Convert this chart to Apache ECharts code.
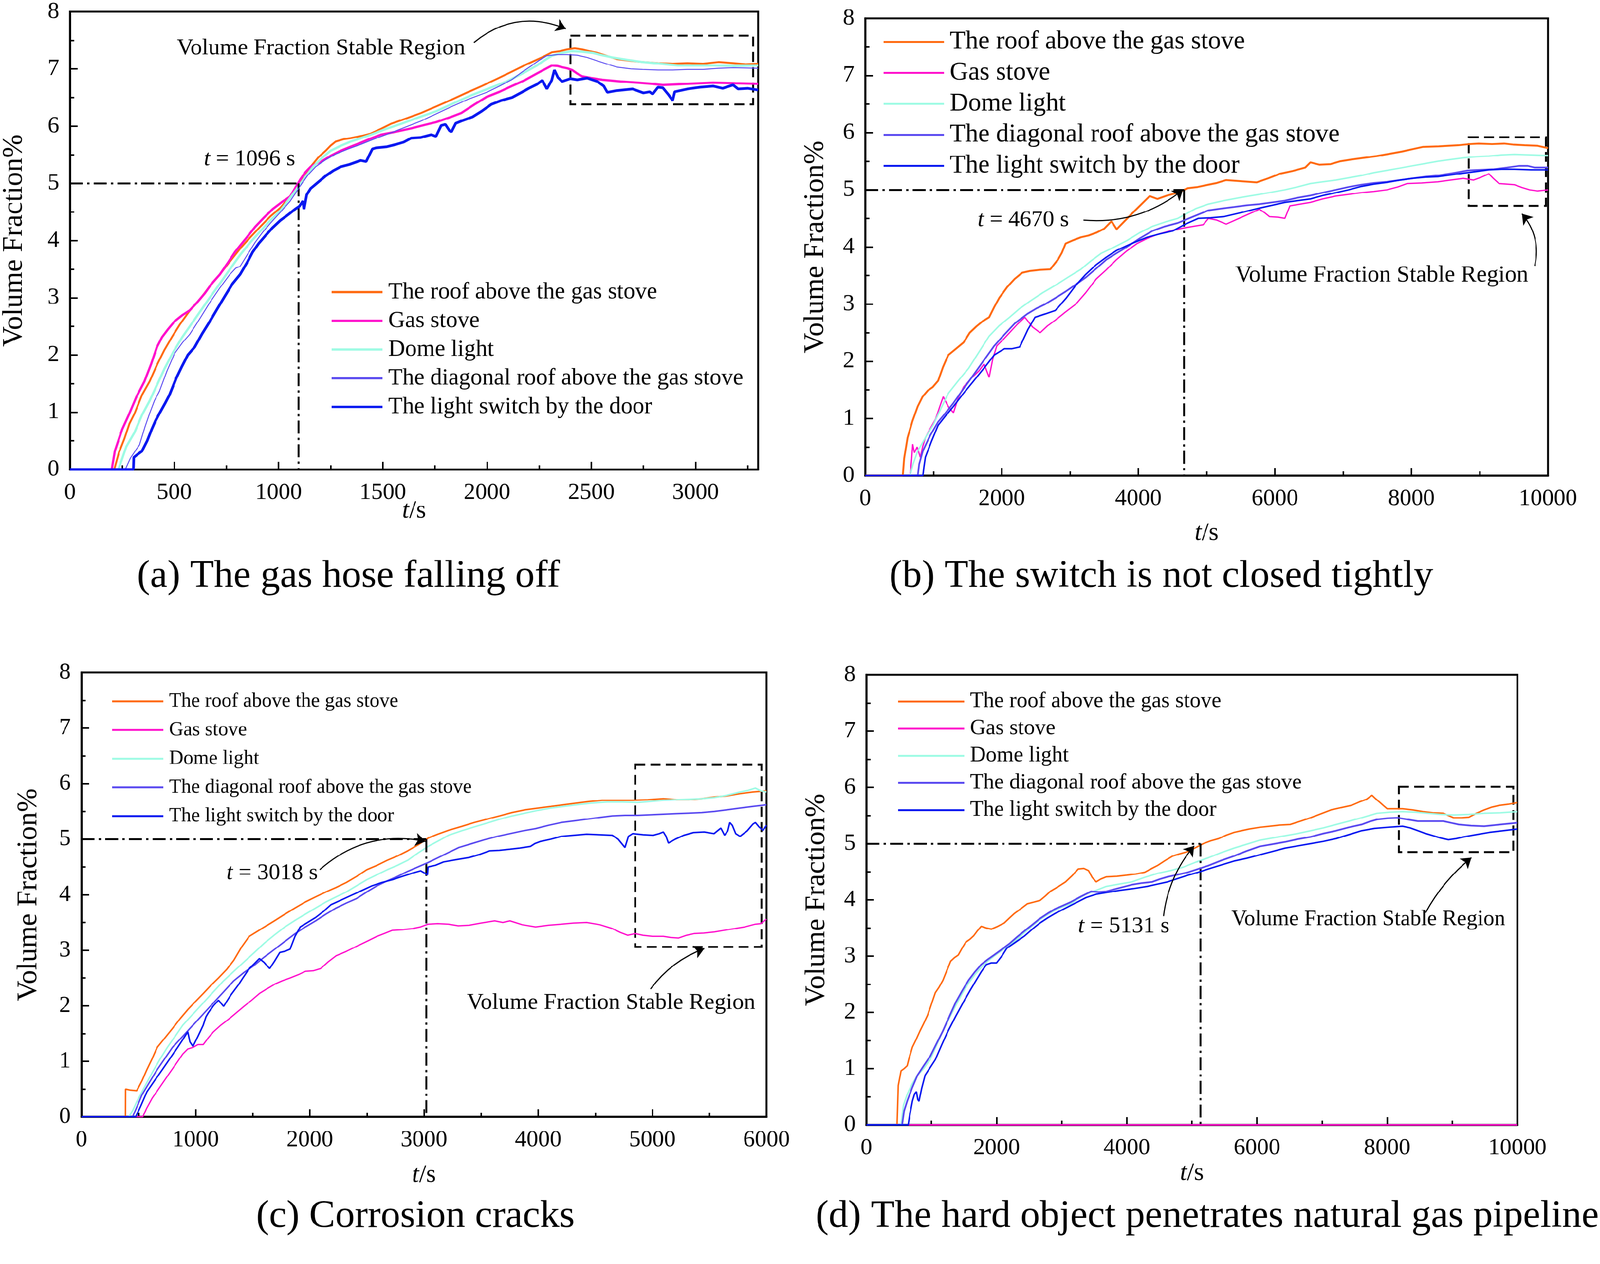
<!DOCTYPE html>
<html>
<head>
<meta charset="utf-8">
<script src="https://cdn.jsdelivr.net/npm/echarts@6/dist/echarts.min.js"></script>
<style>
  html, body { margin: 0; padding: 0; background: #fff; overflow: hidden; }
  #chart { width: 4183px; height: 3235px; transform-origin: 0 0; }
</style>
</head>
<body>
<div id="chart"></div>
<script>
const FONT = "'Liberation Serif', 'Times New Roman', serif";
const NAMES = ['The roof above the gas stove', 'Gas stove', 'Dome light', 'The diagonal roof above the gas stove', 'The light switch by the door'];
const COLORS = ['#FF6A10', '#FF10CC', '#9EFBE4', '#5A4AF0', '#0818F0'];
const CAPTIONS = ['(a) The gas hose falling off', '(b) The switch is not closed tightly', '(c) Corrosion cracks', '(d) The hard object penetrates natural gas pipeline'];
const T_CROSS = [1096, 4670, 3018, 5131];
const Y_TICKS = [0, 1, 2, 3, 4, 5, 6, 7, 8];

// (a) gas hose falling off
const aRoof = [[0,0],[212,0],[235,0.3],[261,0.54],[285,0.8],[310,0.98],[345,1.3],[382,1.54],[420,1.85],[453,2.09],[490,2.32],[526,2.53],[575,2.78],[622,2.97],[670,3.2],[719,3.41],[770,3.65],[816,3.86],[865,4.06],[912,4.24],[960,4.42],[1008,4.57],[1050,4.75],[1093,4.96],[1120,5.1],[1154,5.29],[1190,5.45],[1226,5.57],[1250,5.66],[1274,5.73],[1310,5.77],[1346,5.79],[1400,5.83],[1443,5.87],[1490,5.95],[1539,6.04],[1610,6.13],[1684,6.23],[1760,6.35],[1829,6.46],[1900,6.58],[1974,6.7],[2050,6.83],[2118,6.95],[2190,7.08],[2263,7.2],[2311,7.29],[2350,7.31],[2384,7.34],[2420,7.36],[2456,7.34],[2490,7.31],[2529,7.28],[2580,7.22],[2625,7.17],[2690,7.14],[2746,7.12],[2820,7.1],[2891,7.09],[2960,7.1],[3036,7.09],[3110,7.12],[3181,7.1],[3240,7.08],[3300,7.09]];
const aGas = [[0,0],[200,0],[215,0.32],[250,0.7],[285,0.98],[320,1.28],[357,1.54],[390,1.85],[417,2.14],[441,2.31],[470,2.45],[502,2.59],[540,2.7],[574,2.78],[610,2.92],[647,3.08],[680,3.25],[719,3.41],[755,3.6],[791,3.8],[840,4.02],[888,4.24],[930,4.4],[972,4.55],[1015,4.67],[1056,4.77],[1080,4.92],[1105,5.07],[1130,5.2],[1154,5.29],[1185,5.35],[1214,5.4],[1255,5.49],[1298,5.57],[1345,5.64],[1394,5.71],[1440,5.78],[1491,5.85],[1560,5.9],[1636,5.96],[1700,6.02],[1756,6.07],[1820,6.15],[1877,6.23],[1940,6.38],[1998,6.51],[2060,6.6],[2118,6.7],[2180,6.8],[2239,6.92],[2280,7.0],[2311,7.06],[2340,7.05],[2360,7.03],[2385,7.01],[2408,6.98],[2432,6.92],[2456,6.87],[2500,6.84],[2553,6.81],[2640,6.78],[2722,6.76],[2790,6.74],[2843,6.72],[2960,6.74],[3084,6.76],[3190,6.75],[3300,6.74]];
const aDome = [[0,0],[232,0],[270,0.4],[310,0.65],[345,0.95],[382,1.2],[420,1.5],[453,1.76],[495,2.05],[538,2.31],[580,2.53],[622,2.75],[670,3.0],[719,3.25],[767,3.5],[816,3.75],[865,3.97],[912,4.16],[960,4.35],[1008,4.52],[1050,4.72],[1093,4.93],[1130,5.12],[1166,5.29],[1210,5.45],[1250,5.57],[1300,5.66],[1346,5.73],[1395,5.79],[1443,5.85],[1515,5.95],[1588,6.04],[1670,6.15],[1756,6.26],[1840,6.4],[1925,6.54],[2010,6.66],[2094,6.78],[2170,6.92],[2239,7.06],[2280,7.16],[2311,7.23],[2360,7.28],[2408,7.31],[2456,7.3],[2505,7.28],[2550,7.24],[2601,7.2],[2670,7.16],[2746,7.12],[2830,7.09],[2915,7.06],[3000,7.06],[3084,7.06],[3190,7.05],[3300,7.06]];
const aDiag = [[0,0],[265,0],[290,0.2],[333,0.43],[360,0.75],[382,0.98],[405,1.2],[429,1.37],[465,1.72],[502,2.03],[540,2.22],[574,2.36],[620,2.62],[671,2.92],[720,3.18],[767,3.41],[795,3.52],[816,3.55],[850,3.75],[888,3.97],[925,4.15],[960,4.3],[1010,4.5],[1056,4.69],[1080,4.82],[1105,4.96],[1140,5.14],[1178,5.29],[1225,5.41],[1274,5.51],[1334,5.6],[1394,5.68],[1455,5.77],[1515,5.85],[1600,5.97],[1684,6.09],[1760,6.22],[1829,6.34],[1910,6.47],[1998,6.59],[2060,6.7],[2118,6.81],[2170,6.95],[2215,7.06],[2250,7.15],[2287,7.23],[2335,7.25],[2385,7.25],[2432,7.24],[2480,7.2],[2529,7.14],[2580,7.08],[2625,7.03],[2690,7.0],[2746,6.99],[2820,6.98],[2891,6.98],[2960,6.99],[3036,6.99],[3110,7.01],[3181,7.02],[3300,7.01]];
const aSwitch = [[0,0],[304,0],[306,0.21],[330,0.28],[345,0.32],[370,0.5],[393,0.71],[410,0.85],[429,0.98],[455,1.15],[478,1.31],[510,1.6],[538,1.81],[565,2.0],[598,2.14],[635,2.38],[671,2.59],[705,2.8],[743,3.03],[780,3.25],[816,3.41],[850,3.62],[876,3.8],[905,3.95],[936,4.08],[970,4.22],[1008,4.35],[1045,4.45],[1080,4.55],[1100,4.6],[1117,4.69],[1122,4.55],[1135,4.8],[1154,4.91],[1190,5.02],[1226,5.13],[1262,5.22],[1298,5.29],[1340,5.33],[1394,5.4],[1420,5.38],[1450,5.6],[1467,5.62],[1520,5.64],[1563,5.68],[1600,5.72],[1636,5.79],[1680,5.8],[1732,5.85],[1755,5.82],[1780,6.01],[1800,6.03],[1820,5.92],[1829,5.9],[1850,6.05],[1877,6.09],[1930,6.16],[1974,6.26],[2020,6.38],[2070,6.45],[2120,6.5],[2166,6.59],[2200,6.66],[2239,6.73],[2265,6.8],[2287,6.65],[2310,6.8],[2323,6.98],[2340,6.85],[2360,6.78],[2400,6.83],[2432,6.81],[2480,6.84],[2529,6.78],[2560,6.7],[2577,6.59],[2620,6.62],[2698,6.65],[2750,6.58],[2780,6.6],[2794,6.56],[2820,6.68],[2843,6.67],[2870,6.55],[2890,6.45],[2900,6.6],[2963,6.65],[3020,6.68],[3084,6.7],[3130,6.66],[3180,6.72],[3204,6.65],[3250,6.66],[3300,6.63]];

// (b) switch not closed tightly
const bRoof = [[0,0],[550,0],[570,0.3],[620,0.66],[690,0.95],[769,1.21],[840,1.38],[919,1.49],[990,1.55],[1068,1.66],[1140,1.9],[1217,2.11],[1330,2.22],[1441,2.33],[1530,2.5],[1628,2.61],[1720,2.7],[1815,2.77],[1890,2.95],[1964,3.11],[2080,3.3],[2188,3.44],[2300,3.55],[2412,3.58],[2560,3.6],[2711,3.61],[2823,3.78],[2880,3.9],[2935,4.06],[3050,4.12],[3159,4.17],[3270,4.2],[3383,4.25],[3500,4.32],[3607,4.45],[3682,4.31],[3920,4.6],[4167,4.89],[4279,4.84],[4420,4.9],[4578,4.95],[4727,5.03],[4870,5.05],[5026,5.09],[5150,5.12],[5287,5.17],[5735,5.13],[5900,5.2],[6071,5.28],[6260,5.33],[6445,5.39],[6520,5.48],[6650,5.44],[6818,5.45],[6960,5.5],[7117,5.53],[7300,5.56],[7491,5.59],[7680,5.63],[7864,5.67],[8010,5.71],[8163,5.75],[8400,5.76],[8686,5.78],[8850,5.8],[8984,5.81],[9180,5.8],[9358,5.81],[9500,5.79],[9657,5.78],[9850,5.77],[10000,5.73]];
const bGas = [[0,0],[657,0],[680,0.3],[695,0.55],[720,0.4],[760,0.5],[807,0.32],[840,0.5],[881,0.66],[950,0.82],[1031,0.99],[1090,1.2],[1143,1.38],[1220,1.2],[1292,1.1],[1360,1.35],[1441,1.55],[1550,1.7],[1665,1.83],[1740,1.95],[1815,1.72],[1870,2.05],[1927,2.27],[2020,2.38],[2114,2.5],[2230,2.65],[2338,2.77],[2450,2.6],[2562,2.5],[2670,2.62],[2786,2.72],[2930,2.86],[3085,3.0],[3230,3.2],[3383,3.44],[3530,3.6],[3682,3.78],[3830,3.93],[3981,4.06],[4130,4.15],[4279,4.22],[4460,4.28],[4653,4.33],[4800,4.36],[4951,4.39],[5026,4.5],[5150,4.47],[5287,4.4],[5530,4.53],[5773,4.66],[5850,4.6],[5922,4.53],[6050,4.52],[6146,4.5],[6221,4.72],[6370,4.75],[6520,4.78],[6700,4.84],[6893,4.89],[7080,4.92],[7267,4.95],[7450,4.97],[7640,5.0],[7800,5.05],[7939,5.11],[8150,5.12],[8387,5.14],[8570,5.17],[8760,5.2],[8910,5.17],[9020,5.22],[9134,5.28],[9200,5.2],[9283,5.11],[9400,5.1],[9507,5.09],[9620,5.04],[9731,5.0],[9850,4.98],[10000,5.0]];
const bDome = [[0,0],[657,0],[700,0.2],[769,0.43],[880,0.66],[993,0.88],[1100,1.15],[1217,1.44],[1370,1.67],[1516,1.88],[1660,2.15],[1815,2.44],[1960,2.62],[2114,2.77],[2260,2.92],[2412,3.05],[2600,3.2],[2786,3.33],[2970,3.47],[3159,3.61],[3300,3.75],[3458,3.89],[3650,4.0],[3831,4.11],[4020,4.25],[4205,4.36],[4400,4.44],[4578,4.5],[4700,4.58],[4839,4.67],[5026,4.75],[5250,4.81],[5474,4.86],[5620,4.89],[5773,4.92],[5960,4.96],[6146,5.0],[6330,5.05],[6520,5.11],[6700,5.14],[6893,5.17],[7080,5.21],[7267,5.25],[7450,5.3],[7640,5.34],[7830,5.38],[8014,5.42],[8200,5.46],[8387,5.5],[8570,5.53],[8760,5.56],[8950,5.58],[9134,5.59],[9320,5.61],[9507,5.62],[9750,5.61],[10000,5.6]];
const bDiag = [[0,0],[770,0],[790,0.2],[844,0.43],[950,0.7],[1068,0.94],[1180,1.1],[1292,1.27],[1440,1.52],[1591,1.77],[1740,2.02],[1890,2.27],[2040,2.47],[2188,2.66],[2375,2.83],[2500,2.92],[2636,3.0],[2790,3.11],[2935,3.22],[3080,3.34],[3234,3.47],[3380,3.62],[3533,3.78],[3680,3.89],[3831,4.0],[4020,4.15],[4205,4.28],[4390,4.36],[4578,4.42],[4800,4.53],[5026,4.64],[5200,4.67],[5399,4.7],[5590,4.73],[5773,4.75],[5960,4.78],[6146,4.81],[6330,4.86],[6520,4.9],[6700,4.95],[6893,5.0],[7080,5.05],[7267,5.09],[7450,5.12],[7640,5.14],[7830,5.17],[8014,5.2],[8200,5.23],[8387,5.25],[8600,5.29],[8835,5.34],[9020,5.35],[9208,5.36],[9400,5.39],[9582,5.42],[9700,5.42],[9806,5.39],[10000,5.39]];
const bSwitch = [[0,0],[845,0],[860,0.15],[881,0.32],[970,0.6],[1068,0.88],[1180,1.05],[1292,1.21],[1440,1.44],[1591,1.66],[1740,1.88],[1890,2.11],[2039,2.22],[2150,2.22],[2263,2.25],[2380,2.55],[2487,2.77],[2640,2.83],[2786,2.89],[2940,3.1],[3085,3.33],[3230,3.52],[3383,3.69],[3530,3.82],[3682,3.94],[3900,4.06],[4130,4.17],[4320,4.23],[4503,4.28],[4690,4.4],[4877,4.5],[5060,4.51],[5250,4.53],[5500,4.6],[5773,4.68],[5960,4.73],[6146,4.78],[6330,4.81],[6520,4.84],[6700,4.9],[6893,4.95],[7080,5.0],[7267,5.06],[7450,5.1],[7640,5.13],[7830,5.17],[8014,5.2],[8200,5.22],[8387,5.23],[8570,5.26],[8760,5.29],[8950,5.32],[9134,5.35],[9320,5.36],[9507,5.36],[9750,5.35],[10000,5.35]];

// (c) corrosion cracks
const cRoof = [[0,0],[385,0],[386,0.5],[430,0.48],[484,0.47],[530,0.65],[573,0.85],[620,1.05],[663,1.25],[730,1.42],[797,1.59],[865,1.77],[931,1.93],[1000,2.08],[1066,2.22],[1130,2.36],[1200,2.5],[1270,2.65],[1334,2.82],[1400,3.05],[1469,3.25],[1540,3.34],[1603,3.42],[1690,3.53],[1782,3.65],[1870,3.76],[1961,3.87],[2050,3.96],[2141,4.05],[2230,4.13],[2320,4.22],[2410,4.33],[2499,4.45],[2590,4.53],[2678,4.62],[2770,4.7],[2857,4.79],[2950,4.9],[3036,5.02],[3120,5.09],[3215,5.16],[3330,5.23],[3439,5.3],[3550,5.36],[3663,5.42],[3770,5.48],[3887,5.53],[4000,5.56],[4111,5.59],[4220,5.62],[4335,5.65],[4450,5.68],[4559,5.7],[4700,5.7],[4828,5.7],[4960,5.71],[5096,5.73],[5210,5.71],[5320,5.71],[5430,5.73],[5544,5.76],[5650,5.78],[5768,5.82],[5880,5.85],[6000,5.87]];
const cGas = [[0,0],[537,0],[570,0.15],[618,0.33],[685,0.53],[752,0.73],[820,0.93],[887,1.13],[930,1.22],[976,1.25],[1020,1.3],[1066,1.3],[1110,1.42],[1155,1.53],[1220,1.65],[1290,1.76],[1360,1.88],[1424,1.99],[1490,2.1],[1558,2.22],[1620,2.3],[1693,2.39],[1760,2.45],[1827,2.5],[1900,2.56],[1961,2.62],[2030,2.63],[2095,2.67],[2160,2.79],[2230,2.9],[2320,2.98],[2409,3.07],[2500,3.16],[2588,3.25],[2650,3.3],[2723,3.36],[2810,3.37],[2902,3.39],[2970,3.42],[3036,3.47],[3120,3.48],[3215,3.47],[3300,3.44],[3395,3.45],[3500,3.49],[3619,3.53],[3690,3.5],[3753,3.53],[3860,3.46],[3977,3.42],[4090,3.45],[4201,3.47],[4310,3.49],[4425,3.5],[4540,3.46],[4649,3.39],[4720,3.32],[4783,3.27],[4850,3.3],[4918,3.27],[5000,3.25],[5096,3.25],[5160,3.23],[5230,3.22],[5300,3.27],[5365,3.3],[5450,3.31],[5544,3.33],[5630,3.36],[5723,3.39],[5810,3.42],[5902,3.47],[5950,3.48],[6000,3.56]];
const cDome = [[0,0],[416,0],[450,0.12],[484,0.27],[550,0.53],[618,0.79],[685,1.03],[752,1.25],[820,1.45],[887,1.65],[976,1.85],[1066,2.05],[1155,2.25],[1245,2.45],[1334,2.62],[1424,2.79],[1514,2.96],[1603,3.13],[1693,3.28],[1782,3.42],[1872,3.54],[1961,3.65],[2051,3.76],[2141,3.87],[2230,3.96],[2320,4.05],[2409,4.16],[2499,4.27],[2588,4.36],[2678,4.45],[2768,4.53],[2857,4.62],[2947,4.75],[3036,4.87],[3126,4.97],[3215,5.07],[3327,5.15],[3439,5.22],[3551,5.29],[3663,5.36],[3775,5.42],[3887,5.47],[4000,5.52],[4111,5.56],[4223,5.59],[4335,5.62],[4470,5.65],[4604,5.67],[4740,5.67],[4873,5.66],[4985,5.68],[5096,5.7],[5210,5.71],[5320,5.72],[5430,5.73],[5544,5.75],[5650,5.79],[5768,5.85],[5840,5.88],[5902,5.92],[5950,5.87],[6000,5.85]];
const cDiag = [[0,0],[448,0],[490,0.2],[528,0.39],[595,0.62],[663,0.85],[730,1.05],[797,1.25],[887,1.45],[976,1.65],[1066,1.85],[1155,2.05],[1245,2.25],[1334,2.45],[1424,2.6],[1514,2.73],[1603,2.88],[1693,3.02],[1782,3.16],[1872,3.3],[1961,3.42],[2051,3.53],[2141,3.65],[2230,3.76],[2320,3.85],[2409,3.93],[2499,4.05],[2588,4.16],[2678,4.25],[2768,4.33],[2857,4.42],[2947,4.5],[3036,4.58],[3126,4.67],[3215,4.76],[3305,4.85],[3417,4.92],[3529,4.99],[3641,5.05],[3753,5.1],[3865,5.15],[3977,5.19],[4090,5.25],[4201,5.3],[4313,5.33],[4425,5.36],[4537,5.39],[4649,5.42],[4761,5.43],[4873,5.43],[4985,5.44],[5096,5.45],[5208,5.46],[5320,5.47],[5432,5.48],[5544,5.5],[5656,5.53],[5768,5.56],[5880,5.59],[6000,5.62]];
const cSwitch = [[0,0],[475,0],[520,0.2],[573,0.45],[640,0.65],[708,0.85],[775,1.05],[842,1.25],[890,1.4],[931,1.53],[950,1.35],[976,1.27],[1020,1.45],[1066,1.65],[1090,1.8],[1110,1.87],[1155,2.0],[1200,2.1],[1245,1.99],[1310,2.2],[1379,2.39],[1420,2.52],[1469,2.67],[1510,2.75],[1558,2.85],[1600,2.78],[1648,2.67],[1690,2.8],[1737,2.96],[1780,2.98],[1827,3.02],[1870,3.25],[1916,3.42],[1980,3.5],[2051,3.59],[2120,3.7],[2185,3.82],[2270,3.9],[2364,3.99],[2450,4.07],[2544,4.16],[2630,4.22],[2723,4.27],[2810,4.33],[2902,4.39],[2970,4.43],[3030,4.36],[3036,4.5],[3100,4.53],[3171,4.59],[3280,4.63],[3395,4.67],[3480,4.72],[3574,4.79],[3660,4.8],[3753,4.82],[3840,4.84],[3932,4.87],[3970,4.92],[4021,4.96],[4110,5.0],[4201,5.05],[4310,5.07],[4425,5.09],[4540,5.08],[4649,5.07],[4700,5.0],[4740,4.9],[4760,4.85],[4790,5.05],[4828,5.1],[4920,5.08],[5007,5.07],[5060,5.1],[5096,5.13],[5120,5.05],[5141,4.93],[5200,5.0],[5275,5.07],[5360,5.12],[5454,5.13],[5540,5.1],[5600,5.2],[5633,5.07],[5660,5.15],[5678,5.3],[5700,5.25],[5730,5.1],[5768,5.05],[5830,5.15],[5880,5.27],[5902,5.3],[5935,5.22],[5969,5.16],[6000,5.25]];

// (d) hard object penetrates pipeline
const dRoof = [[0,0],[471,0],[490,0.7],[533,0.96],[580,1.0],[627,1.05],[660,1.2],[706,1.38],[765,1.52],[824,1.67],[880,1.8],[941,1.95],[1000,2.15],[1059,2.35],[1118,2.45],[1176,2.57],[1235,2.74],[1294,2.91],[1350,2.97],[1412,3.02],[1470,3.14],[1529,3.25],[1590,3.3],[1647,3.36],[1705,3.45],[1765,3.53],[1840,3.5],[1922,3.48],[2020,3.53],[2118,3.59],[2200,3.68],[2275,3.76],[2370,3.84],[2471,3.93],[2570,3.96],[2667,3.99],[2750,4.07],[2824,4.15],[2940,4.23],[3059,4.32],[3160,4.43],[3255,4.55],[3340,4.56],[3412,4.52],[3470,4.4],[3529,4.32],[3600,4.37],[3686,4.41],[3850,4.42],[4000,4.44],[4140,4.46],[4275,4.49],[4370,4.55],[4471,4.61],[4590,4.7],[4706,4.78],[4820,4.82],[4941,4.86],[5060,4.93],[5176,5.0],[5290,5.05],[5412,5.09],[5530,5.15],[5647,5.2],[5760,5.23],[5882,5.26],[6040,5.29],[6196,5.31],[6350,5.33],[6510,5.34],[6670,5.4],[6824,5.46],[6980,5.53],[7137,5.6],[7290,5.64],[7451,5.68],[7570,5.74],[7686,5.79],[7765,5.86],[7820,5.8],[7882,5.74],[7940,5.68],[8000,5.62],[8120,5.62],[8235,5.62],[8390,5.6],[8549,5.57],[8700,5.55],[8863,5.54],[8940,5.5],[9020,5.46],[9140,5.46],[9255,5.47],[9370,5.54],[9490,5.6],[9610,5.65],[9725,5.68],[9860,5.7],[10000,5.73]];
const dGas = [[0,0],[10000,0]];
const dDome = [[0,0],[533,0],[570,0.35],[627,0.54],[700,0.72],[784,0.88],[880,1.0],[980,1.16],[1080,1.42],[1176,1.67],[1275,1.9],[1373,2.12],[1470,2.33],[1569,2.52],[1667,2.67],[1765,2.8],[1863,2.91],[1961,3.0],[2080,3.1],[2196,3.19],[2314,3.3],[2431,3.42],[2550,3.54],[2667,3.65],[2785,3.74],[2902,3.82],[3020,3.88],[3137,3.93],[3255,4.02],[3373,4.1],[3530,4.17],[3686,4.24],[3880,4.28],[4078,4.32],[4275,4.4],[4471,4.47],[4667,4.52],[4863,4.58],[5060,4.67],[5255,4.75],[5450,4.84],[5647,4.92],[5843,4.99],[6039,5.06],[6235,5.1],[6431,5.14],[6627,5.18],[6824,5.23],[7020,5.28],[7216,5.34],[7412,5.4],[7608,5.46],[7725,5.5],[7843,5.54],[8040,5.56],[8235,5.57],[8430,5.56],[8627,5.54],[8820,5.52],[9020,5.51],[9255,5.52],[9490,5.54],[9740,5.55],[10000,5.57]];
const dDiag = [[0,0],[549,0],[580,0.25],[627,0.42],[700,0.65],[784,0.88],[880,1.05],[980,1.22],[1080,1.45],[1176,1.67],[1275,1.93],[1373,2.18],[1470,2.38],[1569,2.57],[1667,2.72],[1765,2.85],[1863,2.94],[1961,3.02],[2080,3.12],[2196,3.22],[2314,3.34],[2431,3.45],[2550,3.56],[2667,3.67],[2785,3.76],[2902,3.84],[3020,3.9],[3137,3.96],[3294,4.06],[3451,4.15],[3570,4.14],[3686,4.15],[3880,4.21],[4078,4.27],[4235,4.3],[4392,4.32],[4510,4.37],[4627,4.41],[4784,4.45],[4941,4.49],[5098,4.55],[5255,4.61],[5450,4.7],[5647,4.78],[5843,4.87],[6039,4.95],[6235,4.99],[6431,5.03],[6627,5.08],[6824,5.12],[7020,5.18],[7216,5.23],[7412,5.29],[7608,5.34],[7725,5.39],[7843,5.43],[8000,5.45],[8157,5.46],[8314,5.43],[8471,5.4],[8667,5.4],[8863,5.4],[8980,5.37],[9098,5.34],[9290,5.32],[9490,5.31],[9740,5.34],[10000,5.37]];
const dSwitch = [[0,0],[643,0],[670,0.2],[706,0.42],[740,0.55],[769,0.59],[790,0.45],[808,0.42],[850,0.65],[902,0.88],[980,1.02],[1059,1.16],[1157,1.42],[1255,1.67],[1372,1.93],[1490,2.18],[1588,2.38],[1686,2.57],[1765,2.72],[1843,2.85],[1920,2.88],[2000,2.88],[2080,3.0],[2157,3.14],[2294,3.25],[2431,3.36],[2549,3.48],[2667,3.59],[2785,3.68],[2902,3.76],[3020,3.83],[3137,3.9],[3255,3.97],[3373,4.04],[3451,4.07],[3529,4.1],[3686,4.13],[3900,4.17],[4100,4.2],[4314,4.24],[4470,4.28],[4627,4.32],[4784,4.38],[4941,4.44],[5098,4.49],[5255,4.55],[5450,4.62],[5647,4.69],[5843,4.74],[6039,4.8],[6235,4.86],[6431,4.92],[6627,4.96],[6824,5.0],[7020,5.04],[7216,5.09],[7412,5.16],[7608,5.23],[7804,5.27],[8000,5.29],[8118,5.3],[8235,5.31],[8353,5.28],[8471,5.23],[8590,5.18],[8706,5.14],[8824,5.1],[8941,5.07],[9060,5.09],[9176,5.12],[9370,5.16],[9569,5.2],[9780,5.23],[10000,5.26]];

const SERIES_DATA = [
  [aRoof, aGas, aDome, aDiag, aSwitch],
  [bRoof, bGas, bDome, bDiag, bSwitch],
  [cRoof, cGas, cDome, cDiag, cSwitch],
  [dRoof, dGas, dDome, dDiag, dSwitch]
];

// layout of each panel (pixels) and annotation anchors (data coordinates)
const panels = [
  { grid: { left: 165, top: 27, width: 1817, height: 1200 }, xMax: 3300, xStep: 500, widths: [5, 6, 6, 2.5, 7],
    legend: { left: 867, top: 733, itemWidth: 133, itemHeight: 6, fontSize: 61, itemGap: 14 },
    yNameGap: 108, xNameGap: 76, caption: [911, 1507, 'center'],
    box: [2400, 7.58, 3276, 6.38],
    tText: [861, 5.42], tArrow: null,
    regText: [1204, 7.36], regFont: 60, regArrow: [[1937, 7.46], [2378, 7.7], 0.3] },
  { grid: { left: 2262, top: 48, width: 1785, height: 1195 }, xMax: 10000, xStep: 2000, widths: [5, 3.5, 4, 4.5, 4],
    legend: { left: 2310, top: 76, itemWidth: 158, itemHeight: 5, fontSize: 67, itemGap: 14 },
    yNameGap: 92, xNameGap: 118, caption: [3036, 1507, 'center'],
    box: [8840, 5.92, 9970, 4.72],
    tText: [2315, 4.47], tArrow: [[3196, 4.47], [4653, 5.0], -0.2],
    regText: [7565, 3.5], regFont: 61, regArrow: [[9806, 3.67], [9619, 4.58], -0.25] },
  { grid: { left: 213, top: 1758, width: 1791, height: 1161 }, xMax: 6000, xStep: 1000, widths: [4, 3.5, 4, 4, 4],
    legend: { left: 293, top: 1807, itemWidth: 134, itemHeight: 5, fontSize: 52, itemGap: 23 },
    yNameGap: 100, xNameGap: 120, caption: [1086, 3180, 'center'],
    box: [4850, 6.34, 5956, 3.06],
    tText: [1670, 4.39], tArrow: [[2087, 4.45], [3013, 4.96], 0.25],
    regText: [4639, 2.05], regFont: 60, regArrow: [[4984, 2.3], [5455, 3.03], 0.15] },
  { grid: { left: 2265, top: 1764, width: 1702, height: 1176 }, xMax: 10000, xStep: 2000, widths: [4, 4, 4, 4.5, 4],
    legend: { left: 2348, top: 1805, itemWidth: 173, itemHeight: 5, fontSize: 57, itemGap: 14 },
    yNameGap: 92, xNameGap: 94, caption: [4180, 3180, 'right'],
    box: [8180, 6.01, 9937, 4.85],
    tText: [3953, 3.53], tArrow: [[4565, 3.71], [5035, 4.96], 0.15],
    regText: [7710, 3.65], regFont: 57, regArrow: [[8588, 3.77], [9294, 4.75], 0.1] }
];

// fit the 4183x3235 drawing into whatever viewport the page actually gets
const chartEl = document.getElementById('chart');
const fit = Math.min(window.innerWidth / 4183, window.innerHeight / 3235);
if (fit > 0 && fit < 1) chartEl.style.transform = 'scale(' + fit + ')';

const chart = echarts.init(chartEl);

const grids = [], xAxes = [], yAxes = [], series = [], legends = [], graphics = [];
const tickStyle = { color: '#000', width: 4 };
const labelStyle = { fontSize: 61, fontFamily: FONT, color: '#000', formatter: v => String(v) };

panels.forEach((p, i) => {
  grids.push(Object.assign({ show: true, borderColor: '#000', borderWidth: 5, backgroundColor: 'transparent' }, p.grid));

  // panel (a) has a max that is not a tick, so its minor ticks come from a second axis
  const odd = p.xMax % p.xStep !== 0;
  const xIndex = xAxes.length;
  xAxes.push({
    type: 'value', gridIndex: i, min: 0, max: p.xMax, interval: p.xStep,
    name: '{i|t}/s', nameLocation: 'middle', nameGap: p.xNameGap, nameMoveOverlap: false,
    nameTextStyle: { fontSize: 66, fontFamily: FONT, color: '#000', rich: { i: { fontSize: 66, fontFamily: FONT, fontStyle: 'italic', color: '#000' } } },
    axisLine: { show: true, onZero: false, lineStyle: { color: '#000', width: 5 } },
    axisTick: { show: true, inside: true, length: 20, lineStyle: tickStyle },
    minorTick: { show: !odd, splitNumber: 2, length: 11, lineStyle: tickStyle },
    splitLine: { show: false },
    axisLabel: Object.assign({ margin: 30, showMaxLabel: !odd }, labelStyle)
  });
  if (odd) {
    xAxes.push({
      type: 'value', gridIndex: i, min: 0, max: p.xMax, interval: p.xStep / 2, position: 'bottom',
      axisLine: { show: false }, axisLabel: { show: false }, splitLine: { show: false },
      axisTick: { show: true, inside: true, length: 11, lineStyle: tickStyle }
    });
  }
  yAxes.push({
    type: 'value', gridIndex: i, min: Y_TICKS[0], max: Y_TICKS[Y_TICKS.length - 1], interval: 1,
    name: 'Volume Fraction%', nameLocation: 'middle', nameGap: p.yNameGap, nameMoveOverlap: false,
    nameTextStyle: { fontSize: 74, fontFamily: FONT, color: '#000' },
    axisLine: { show: true, onZero: false, lineStyle: { color: '#000', width: 5 } },
    axisTick: { show: true, inside: true, length: 20, lineStyle: tickStyle },
    minorTick: { show: true, splitNumber: 2, length: 11, lineStyle: tickStyle },
    splitLine: { show: false },
    axisLabel: Object.assign({ margin: 28 }, labelStyle)
  });

  SERIES_DATA[i].forEach((d, k) => {
    series.push({
      name: NAMES[k], type: 'line', xAxisIndex: xIndex, yAxisIndex: i, data: d,
      symbol: 'none', silent: true, z: 2 + k,
      lineStyle: { color: COLORS[k], width: p.widths[k] },
      itemStyle: { color: COLORS[k] }
    });
  });

  // annotations: threshold lines, stable-region box and labels
  const t = T_CROSS[i];
  const dashDot = { color: '#000', width: 5, type: [34, 11, 6, 11] };
  const rich = (fs) => ({ i: { fontStyle: 'italic', fontSize: fs, fontFamily: FONT, color: '#000' } });
  series.push({
    name: 'annotation', type: 'line', xAxisIndex: xIndex, yAxisIndex: i, data: [], z: 20, silent: true,
    markLine: {
      silent: true, symbol: ['none', 'none'], label: { show: false }, animation: false,
      emphasis: { disabled: true }, lineStyle: dashDot,
      data: [
        [{ coord: [0, 5] }, { coord: [t, 5] }],
        [{ coord: [t, 5] }, { coord: [t, 0] }]
      ]
    },
    markArea: {
      silent: true, animation: false,
      itemStyle: { color: 'rgba(0,0,0,0)', borderColor: '#000', borderWidth: 5, borderType: [26, 14] },
      data: [[{ coord: [p.box[0], p.box[1]] }, { coord: [p.box[2], p.box[3]] }]]
    },
    markPoint: {
      silent: true, animation: false, symbol: 'circle', symbolSize: 1,
      itemStyle: { color: 'rgba(0,0,0,0)' },
      label: { show: true, position: 'inside', color: '#000', fontFamily: FONT },
      data: [
        { coord: p.tText, label: { formatter: '{i|t} = ' + t + ' s', fontSize: 60, rich: rich(60) } },
        { coord: p.regText, label: { formatter: 'Volume Fraction Stable Region', fontSize: p.regFont } }
      ]
    }
  });

  // curved pointer arrows
  const arrows = [p.tArrow, p.regArrow].filter(Boolean).map(a => ({
    coords: [a[0], a[1]], lineStyle: { curveness: a[2] }
  }));
  series.push({
    name: 'arrows', type: 'lines', coordinateSystem: 'cartesian2d', xAxisIndex: xIndex, yAxisIndex: i,
    z: 21, silent: true, symbol: ['none', 'arrow'], symbolSize: 26,
    lineStyle: { color: '#000', width: 3, opacity: 1 },
    data: arrows
  });

  legends.push({
    orient: 'vertical', left: p.legend.left, top: p.legend.top, padding: 0,
    itemWidth: p.legend.itemWidth, itemHeight: p.legend.itemHeight, itemGap: p.legend.itemGap,
    selectedMode: false, icon: 'rect', data: NAMES,
    textStyle: { fontSize: p.legend.fontSize, fontFamily: FONT, color: '#000', padding: [0, 0, 0, 10] }
  });

  graphics.push({
    type: 'text', x: p.caption[0], y: p.caption[1], silent: true,
    style: { text: CAPTIONS[i], fontSize: 102, fontFamily: FONT, fill: '#000', align: p.caption[2], verticalAlign: 'middle' }
  });
});

chart.setOption({
  backgroundColor: '#fff',
  animation: false,
  grid: grids,
  xAxis: xAxes,
  yAxis: yAxes,
  legend: legends,
  series: series,
  graphic: graphics
});
</script>
</body>
</html>
